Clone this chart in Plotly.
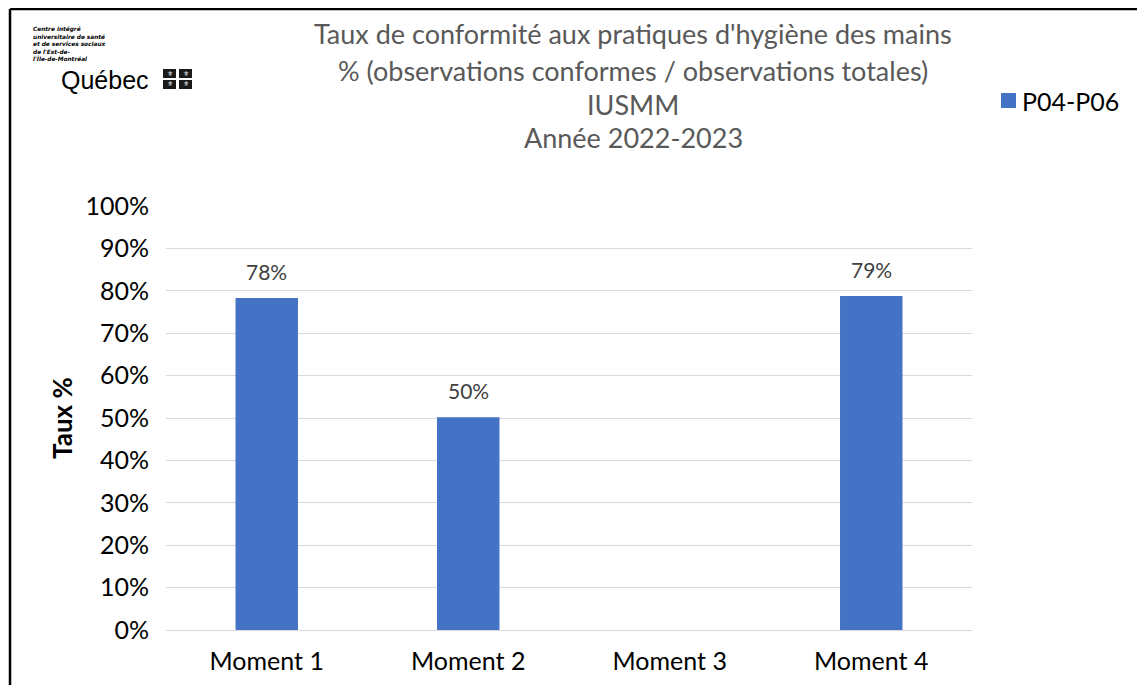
import plotly.graph_objects as go

categories = ["Moment 1", "Moment 2", "Moment 3", "Moment 4"]
values = [0.783, 0.502, None, 0.788]
labels = ["78%", "50%", "", "79%"]
series_name = "P04-P06"
title_lines = [
    "Taux de conformité aux pratiques d'hygiène des mains",
    "% (observations conformes / observations totales)",
    "IUSMM",
    "Année 2022-2023",
]
logo_lines = [
    "Centre intégré",
    "universitaire de santé",
    "et de services sociaux",
    "de l'Est-de-",
    "l'Île-de-Montréal",
]

OFF = 8  # browser body margin
W, H = 1145 - 2 * OFF, 693 - 2 * OFF
L = 166 - OFF
T = 206 - OFF
R = W - (972 - OFF)
B = H - (630 - OFF)
PW, PH = W - L - R, H - T - B


def px(x):
    return (x - OFF - L) / PW


def py(y):
    return (H - B - (y - OFF)) / PH


FONT = "Lato"

fig = go.Figure()
fig.add_trace(go.Bar(
    x=categories, y=values, name=series_name,
    marker=dict(color="#4472C4", line=dict(width=0)),
    showlegend=False,
))

annotations = []
# data labels
for c, v, t in zip(categories, values, labels):
    if v is None or not t:
        continue
    annotations.append(dict(
        text=t, x=c, y=v, xref="x", yref="y", showarrow=False,
        xanchor="center", yanchor="bottom", yshift=12,
        font=dict(family=FONT, size=21, color="#404040"),
    ))

title_y = [33, 70, 104, 138]
for t, yy in zip(title_lines, title_y):
    annotations.append(dict(
        text=t, x=px(633), y=py(yy), xref="paper", yref="paper",
        showarrow=False, xanchor="center", yanchor="middle",
        font=dict(family=FONT, size=27, color="#595959"),
    ))
# logo text block
annotations.append(dict(
    text="<br>".join("<b><i>" + t + "</i></b>" for t in logo_lines),
    x=px(32), y=py(25), xref="paper", yref="paper",
    showarrow=False, xanchor="left", yanchor="top", align="left",
    borderpad=0,
    font=dict(family="DejaVu Sans", size=5.8, color="#000000"),
))
annotations.append(dict(
    text="Québec", x=px(60), y=py(80), xref="paper", yref="paper",
    showarrow=False, xanchor="left", yanchor="middle", borderpad=0,
    font=dict(family="Liberation Sans", size=25, color="#000000"),
))
annotations.append(dict(
    text="<b>Taux %</b>", x=px(62), y=py(418), xref="paper", yref="paper",
    showarrow=False, xanchor="center", yanchor="middle", textangle=-90,
    font=dict(family=FONT, size=26, color="#000000"),
))
# legend (manual)
annotations.append(dict(
    text=series_name, x=px(1020), y=py(101), xref="paper", yref="paper",
    showarrow=False, xanchor="left", yanchor="middle",
    font=dict(family=FONT, size=25, color="#000000"),
))

shapes = []
shapes.append(dict(type="rect", xref="paper", yref="paper",
                   x0=px(1001), x1=px(1016), y0=py(93), y1=py(108),
                   fillcolor="#4472C4", line=dict(width=0)))
# frame (top and left edges)
shapes.append(dict(type="line", xref="paper", yref="paper",
                   x0=px(10), x1=px(1200), y0=py(9), y1=py(9),
                   line=dict(color="#000000", width=2.5)))
shapes.append(dict(type="line", xref="paper", yref="paper",
                   x0=px(10), x1=px(10), y0=py(9), y1=py(720),
                   line=dict(color="#000000", width=2.5)))
# Quebec flag squares
for (x0, y0) in [(163, 69), (179, 69), (163, 80), (179, 80)]:
    shapes.append(dict(type="rect", xref="paper", yref="paper",
                       x0=px(x0), x1=px(x0 + 13), y0=py(y0), y1=py(y0 + 9),
                       fillcolor="#1a1a1a", line=dict(width=0)))
for (xc, yc) in [(169.5, 73.5), (185.5, 73.5), (169.5, 84.5), (185.5, 84.5)]:
    annotations.append(dict(
        text="⚜", x=px(xc), y=py(yc), xref="paper", yref="paper",
        showarrow=False, xanchor="center", yanchor="middle",
        font=dict(family="DejaVu Sans", size=7, color="#ffffff"),
    ))

fig.update_layout(
    width=W, height=H,
    margin=dict(l=L, r=R, t=T, b=B, autoexpand=False),
    paper_bgcolor="white", plot_bgcolor="white",
    bargap=0.69,
    font=dict(family=FONT, color="#000000"),
    showlegend=False,
    annotations=annotations,
    shapes=shapes,
    xaxis=dict(
        type="category", showgrid=False, ticks="", showline=False,
        tickfont=dict(family=FONT, size=25, color="#000000"),
        zeroline=False, ticklabelstandoff=14,
    ),
    yaxis=dict(
        range=[0, 1.0], dtick=0.1, tickformat=".0%",
        showgrid=True, gridcolor="#D9D9D9", gridwidth=1.3,
        zeroline=True, zerolinecolor="#D9D9D9", zerolinewidth=1.3,
        showline=False, ticks="", ticklen=0, ticklabelstandoff=16,
        tickfont=dict(family=FONT, size=25, color="#000000"),
    ),
)
fig.write_html("out.html")
